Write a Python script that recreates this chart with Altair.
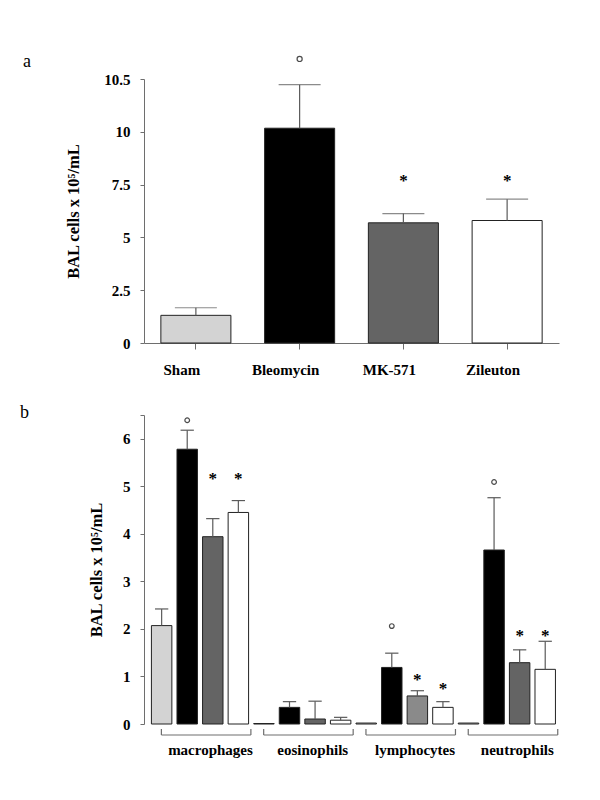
import altair as alt
import pandas as pd

F = "Liberation Serif"
AX = "#6e6e6e"
EC = "#5a5a5a"

# ---------------- panel a data ----------------
treatments = ["Sham", "Bleomycin", "MK-571", "Zileuton"]
a_mean = [1.31, 10.17, 5.69, 5.80]
a_err = [1.67, 12.23, 6.13, 6.81]          # top of the error bar
a_sig = ["", "o", "*", "*"]
a_sig_y = [None, 13.45, 7.86, 7.86]

# ---------------- panel b data ----------------
cell_types = ["macrophages", "eosinophils", "lymphocytes", "neutrophils"]
b_sham = [2.07, 0.01, 0.02, 0.02]
b_bleo = [5.78, 0.35, 1.19, 3.66]
b_mk = [3.94, 0.105, 0.59, 1.29]
b_zil = [4.45, 0.08, 0.35, 1.15]
b_sham_err = [2.42, None, None, None]
b_bleo_err = [6.18, 0.47, 1.49, 4.76]
b_mk_err = [4.32, 0.48, 0.70, 1.56]
b_zil_err = [4.70, 0.14, 0.47, 1.74]
b_sham_sig = ["", "", "", ""]
b_bleo_sig = ["o", "", "o", "o"]
b_mk_sig = ["*", "", "*", "*"]
b_zil_sig = ["*", "", "*", "*"]
b_sham_sig_y = [None, None, None, None]
b_bleo_sig_y = [6.39, None, 2.06, 5.09]
b_mk_sig_y = [5.24, None, 1.02, 1.93]
b_zil_sig_y = [5.24, None, 0.81, 1.93]

shade_domain = ["Sham", "Bleomycin", "MK-571", "Zileuton", "MK-571 light"]
shade_range = ["#d3d3d3", "#000000", "#646464", "#ffffff", "#8a8a8a"]

TITLE = "BAL cells x 10⁵/mL"

# ---------------- panel a ----------------
a_df = pd.DataFrame({"treatment": treatments, "value": a_mean, "err": a_err,
                     "sig": a_sig, "sig_y": a_sig_y})
a_df["shade"] = a_df["treatment"]

xa = alt.X("treatment:N", sort=treatments,
           scale=alt.Scale(paddingInner=0.325, paddingOuter=0.1625),
           axis=alt.Axis(title=None, labelAngle=0, tickSize=6, labelPadding=13, labelOffset=-14))
ya = alt.Y("value:Q", scale=alt.Scale(domain=[0, 12.5], nice=False),
           axis=alt.Axis(values=[0, 2.5, 5, 7.5, 10, 12.5],
                         labelExpr="datum.value == 12.5 ? '10.5' : format(datum.value, '~g')",
                         title=TITLE, tickSize=4, labelPadding=10,
                         titlePadding=22))
color = alt.Color("shade:N", scale=alt.Scale(domain=shade_domain, range=shade_range), legend=None)

base_a = alt.Chart(a_df)
bars_a = base_a.mark_bar(stroke="#222222", strokeWidth=1).encode(x=xa, y=ya, color=color)
err_a = base_a.mark_rule(color=EC, strokeWidth=1.2).encode(
    x=alt.X("treatment:N", sort=treatments), y="value:Q", y2="err:Q")
cap_a = base_a.mark_tick(color=EC, size=42, thickness=1.2, orient="horizontal").encode(
    x=alt.X("treatment:N", sort=treatments), y="err:Q")
circ_a = base_a.transform_filter("datum.sig == 'o'").mark_point(
    shape="circle", filled=False, size=26, color="black", strokeWidth=1.2).encode(
    x=alt.X("treatment:N", sort=treatments), y="sig_y:Q")
star_a = base_a.transform_filter("datum.sig == '*'").mark_text(
    font=F, fontSize=17, fontWeight="bold", baseline="middle", dy=4, color="black").encode(
    x=alt.X("treatment:N", sort=treatments), y="sig_y:Q", text="sig:N")
lab_a = alt.Chart(pd.DataFrame({"label": ["a"]})).mark_text(
    font=F, fontSize=18, align="left", baseline="alphabetic", color="black").encode(
    x=alt.value(-121), y=alt.value(-12), text="label:N")

chart_a = alt.layer(bars_a, err_a, cap_a, circ_a, star_a, lab_a).properties(width=415, height=264)

# ---------------- panel b ----------------
rows = []
series = [("Sham", b_sham, b_sham_err, b_sham_sig, b_sham_sig_y),
          ("Bleomycin", b_bleo, b_bleo_err, b_bleo_sig, b_bleo_sig_y),
          ("MK-571", b_mk, b_mk_err, b_mk_sig, b_mk_sig_y),
          ("Zileuton", b_zil, b_zil_err, b_zil_sig, b_zil_sig_y)]
for gi, cell in enumerate(cell_types):
    for ti, (tr, vals, errs, sigs, sigys) in enumerate(series):
        rows.append({"cell": cell, "gi": gi, "ti": ti, "treatment": tr,
                     "value": vals[gi], "err": errs[gi], "sig": sigs[gi], "sig_y": sigys[gi]})
b_df = pd.DataFrame(rows)

base_b = alt.Chart(b_df).transform_calculate(
    x0="datum.gi * 4 + datum.ti + 0.29",
    x1="datum.gi * 4 + datum.ti + 1.09",
    xc="datum.gi * 4 + datum.ti + 0.69",
    c0="datum.gi * 4 + datum.ti + 0.43",
    c1="datum.gi * 4 + datum.ti + 0.95",
    shade="datum.cell == 'lymphocytes' && datum.treatment == 'MK-571' ? 'MK-571 light' : datum.treatment",
)
xscale_b = alt.Scale(domain=[0, 16.19], nice=False, zero=False)
yb = alt.Y("value:Q", scale=alt.Scale(domain=[0, 6.5], nice=False),
           axis=alt.Axis(values=[0, 1, 2, 3, 4, 5, 6, 6.5],
                         labelExpr="datum.value == 6.5 ? '' : format(datum.value, '~g')",
                         title=TITLE, tickSize=4, labelPadding=10,
                         titlePadding=18))

bars_b = base_b.mark_bar(stroke="#222222", strokeWidth=1).encode(
    x=alt.X("x0:Q", scale=xscale_b, axis=alt.Axis(title=None, labels=False, ticks=False)),
    x2="x1:Q", y=yb, y2=alt.datum(0), color=color)
err_b = base_b.transform_filter("isValid(datum.err)").mark_rule(color=EC, strokeWidth=1.2).encode(
    x=alt.X("xc:Q", scale=xscale_b, axis=None), y="value:Q", y2="err:Q")
cap_b = base_b.transform_filter("isValid(datum.err)").mark_rule(color=EC, strokeWidth=1.2).encode(
    x=alt.X("c0:Q", scale=xscale_b, axis=None), x2="c1:Q", y="err:Q")
circ_b = base_b.transform_filter("datum.sig == 'o'").mark_point(
    shape="circle", filled=False, size=22, color="black", strokeWidth=1.2).encode(
    x=alt.X("xc:Q", scale=xscale_b, axis=None), y="sig_y:Q")
star_b = base_b.transform_filter("datum.sig == '*'").mark_text(
    font=F, fontSize=17, fontWeight="bold", baseline="middle", dy=4, color="black").encode(
    x=alt.X("xc:Q", scale=xscale_b, axis=None), y="sig_y:Q", text="sig:N")

grp = alt.Chart(pd.DataFrame({"cell": cell_types, "gi": list(range(len(cell_types)))})).transform_calculate(
    s="datum.gi * 4 + 0.68", e="datum.gi * 4 + 4.18", m="datum.gi * 4 + 2.6")
br_h = grp.mark_rule(color=AX, strokeWidth=1.2, yOffset=11).encode(
    x=alt.X("s:Q", scale=xscale_b, axis=None), x2="e:Q", y=alt.datum(0))
br_l = grp.mark_rule(color=AX, strokeWidth=1.2, yOffset=5, y2Offset=11).encode(
    x=alt.X("s:Q", scale=xscale_b, axis=None), y=alt.datum(0), y2=alt.datum(0))
br_r = grp.mark_rule(color=AX, strokeWidth=1.2, yOffset=5, y2Offset=11).encode(
    x=alt.X("e:Q", scale=xscale_b, axis=None), y=alt.datum(0), y2=alt.datum(0))
grp_lab = grp.mark_text(font=F, fontSize=15, fontWeight="bold", baseline="middle", dy=26,
                        color="black").encode(
    x=alt.X("m:Q", scale=xscale_b, axis=None), y=alt.datum(0), text="cell:N")
lab_b = alt.Chart(pd.DataFrame({"label": ["b"]})).mark_text(
    font=F, fontSize=18, align="left", baseline="alphabetic", color="black").encode(
    x=alt.value(-124), y=alt.value(3), text="label:N")

chart_b = alt.layer(bars_b, err_b, cap_b, circ_b, star_b, br_h, br_l, br_r, grp_lab, lab_b).properties(
    width=414, height=309)

chart = alt.vconcat(chart_a, chart_b, spacing=27).properties(
    padding={"left": 12, "top": 45, "right": 5, "bottom": 5}
).configure_axis(
    labelFont=F, labelFontSize=15, labelFontWeight="bold", labelColor="black",
    titleFont=F, titleFontSize=16.5, titleFontWeight="bold", titleColor="black",
    domainColor=AX, tickColor=AX, grid=False
).configure_view(stroke=None)

chart.save("out.html", embed_options={"renderer": "svg", "actions": False})
